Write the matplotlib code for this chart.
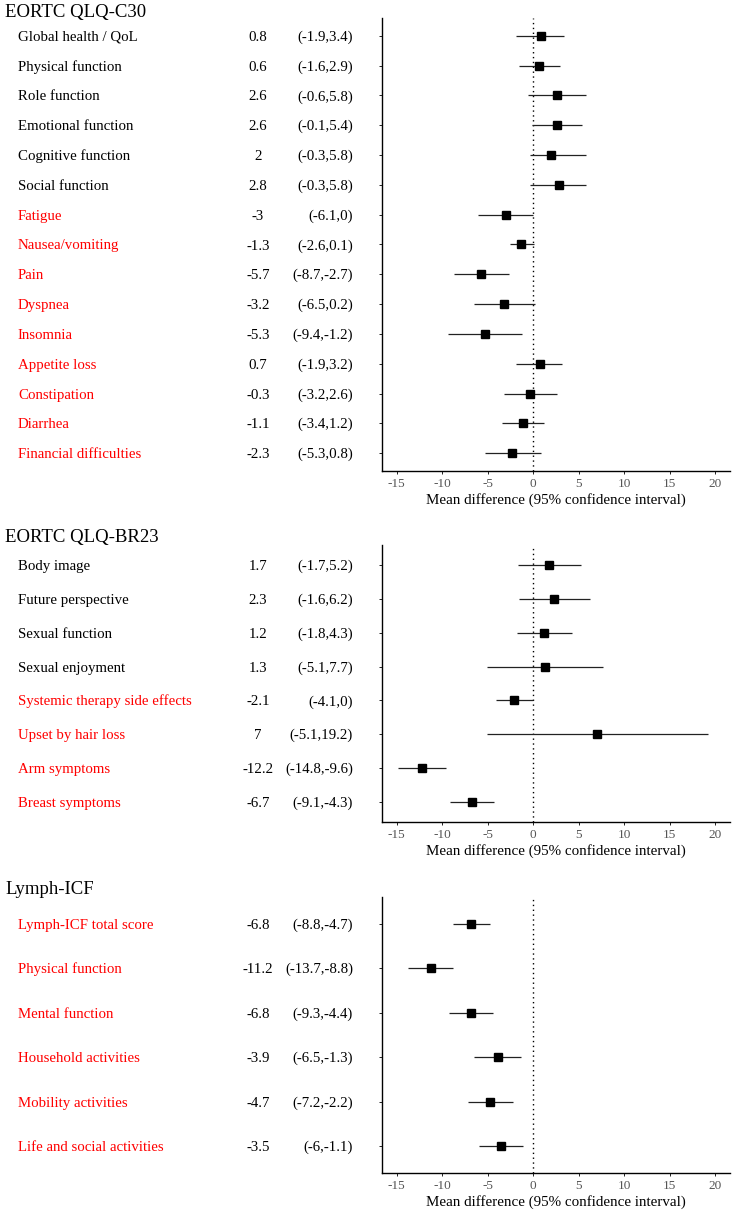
import numpy as np
import matplotlib
matplotlib.use("Agg")
import matplotlib.pyplot as plt
from matplotlib.transforms import blended_transform_factory, offset_copy

plt.rcParams['font.family'] = ['Liberation Serif', 'DejaVu Serif']
plt.rcParams['axes.unicode_minus'] = False

# ---- data ----
c30_names = ["Global health / QoL", "Physical function", "Role function",
             "Emotional function", "Cognitive function", "Social function",
             "Fatigue", "Nausea/vomiting", "Pain", "Dyspnea", "Insomnia",
             "Appetite loss", "Constipation", "Diarrhea", "Financial difficulties"]
c30_est = [0.8, 0.6, 2.6, 2.6, 2, 2.8, -3, -1.3, -5.7, -3.2, -5.3, 0.7, -0.3, -1.1, -2.3]
c30_lo = [-1.9, -1.6, -0.6, -0.1, -0.3, -0.3, -6.1, -2.6, -8.7, -6.5, -9.4, -1.9, -3.2, -3.4, -5.3]
c30_hi = [3.4, 2.9, 5.8, 5.4, 5.8, 5.8, 0, 0.1, -2.7, 0.2, -1.2, 3.2, 2.6, 1.2, 0.8]
c30_red = [False] * 6 + [True] * 9

br23_names = ["Body image", "Future perspective", "Sexual function", "Sexual enjoyment",
              "Systemic therapy side effects", "Upset by hair loss", "Arm symptoms",
              "Breast symptoms"]
br23_est = [1.7, 2.3, 1.2, 1.3, -2.1, 7, -12.2, -6.7]
br23_lo = [-1.7, -1.6, -1.8, -5.1, -4.1, -5.1, -14.8, -9.1]
br23_hi = [5.2, 6.2, 4.3, 7.7, 0, 19.2, -9.6, -4.3]
br23_red = [False] * 4 + [True] * 4

icf_names = ["Lymph-ICF total score", "Physical function", "Mental function",
             "Household activities", "Mobility activities", "Life and social activities"]
icf_est = [-6.8, -11.2, -6.8, -3.9, -4.7, -3.5]
icf_lo = [-8.8, -13.7, -9.3, -6.5, -7.2, -6]
icf_hi = [-4.7, -8.8, -4.4, -1.3, -2.2, -1.1]
icf_red = [True] * 6

ticks = [-15, -10, -5, 0, 5, 10, 15, 20]

W, H = 733, 1210
fig = plt.figure(figsize=(W / 100, H / 100), dpi=100)

def fmt(v):
    return ("%g" % v)

def panel(title, names, est, lo, hi, red, top, bottom, title_y):
    # axes placed in pixel coordinates
    x0, x1 = 382, 730
    ax = fig.add_axes([x0 / W, 1 - bottom / H, (x1 - x0) / W, (bottom - top) / H])
    n = len(names)
    y = np.arange(1, n + 1)
    ax.axvline(0, color='black', ls=(0, (1, 2.5)), lw=1.0, zorder=1)
    ax.hlines(y, lo, hi, color='#222222', lw=0.9, zorder=2)
    ax.plot(est, y, 's', color='black', ms=6, zorder=3)
    ax.set_xlim(-16.6, 21.6)
    ax.set_ylim(n + 0.6, 0.4)
    ax.set_yticks(y)
    ax.set_yticklabels([])
    ax.set_xticks(ticks)
    ax.tick_params(axis='y', length=2.5, width=0.6)
    ax.tick_params(axis='x', length=2, width=0.6, labelsize=9.5, labelcolor='#555555', pad=3)
    for s in ['top', 'right']:
        ax.spines[s].set_visible(False)
    for s in ['left', 'bottom']:
        ax.spines[s].set_linewidth(1.0)
    ax.set_xlabel("Mean difference (95% confidence interval)", fontsize=10.8, labelpad=2)

    # x in figure fraction, y in data rows; baseline shifted so caps centre on the row
    tr = offset_copy(blended_transform_factory(fig.transFigure, ax.transData),
                     fig=fig, x=0, y=-3.6, units='points')
    for i in range(n):
        col = 'red' if red[i] else 'black'
        ax.text(18 / W, y[i], names[i], transform=tr, ha='left', va='baseline',
                fontsize=10.7, color=col)
        ax.text(258 / W, y[i], fmt(est[i]), transform=tr, ha='center', va='baseline',
                fontsize=10.7, color='black')
        ax.text(353 / W, y[i], "(%s,%s)" % (fmt(lo[i]), fmt(hi[i])), transform=tr,
                ha='right', va='baseline', fontsize=10.7, color='black')
    fig.text(5 / W, 1 - title_y / H, title, ha='left', va='center_baseline', fontsize=13.5)
    return ax

panel("EORTC QLQ-C30", c30_names, c30_est, c30_lo, c30_hi, c30_red, 18, 471, 11)
panel("EORTC QLQ-BR23", br23_names, br23_est, br23_lo, br23_hi, br23_red, 545, 822, 536)
panel("Lymph-ICF", icf_names, icf_est, icf_lo, icf_hi, icf_red, 897, 1173, 887)

fig.savefig("out.png", dpi=100)
